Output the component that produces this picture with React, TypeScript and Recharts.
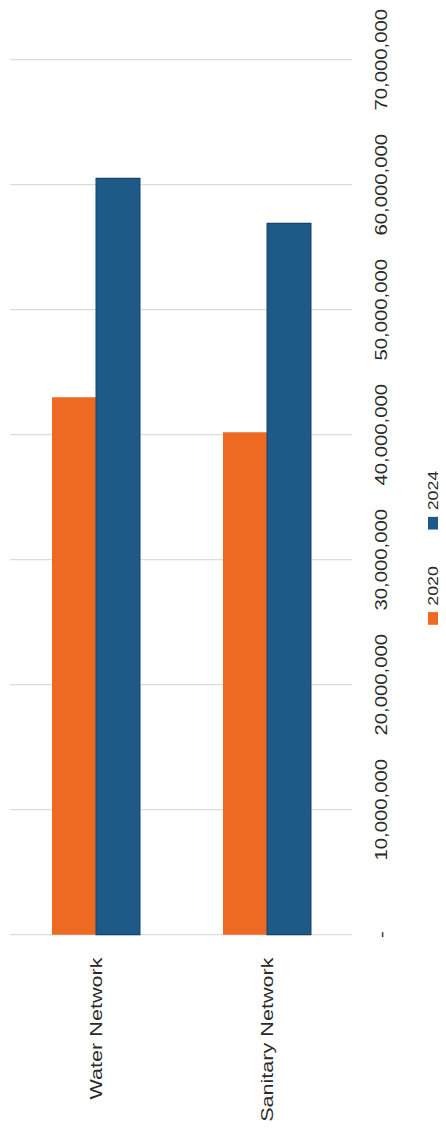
import { BarChart, Bar, XAxis, YAxis, CartesianGrid, Legend } from 'recharts';

// Values (chart is printed rotated 90° CCW)
const categories = ['Water Network', 'Sanitary Network'];
const values2020 = [43000000, 40200000];
const values2024 = [60500000, 56900000];
const seriesNames = ['2020', '2024'];
const seriesColors = ['#EE6A22', '#1E5A88'];
const valueTicks = [0, 10000000, 20000000, 30000000, 40000000, 50000000, 60000000, 70000000];

const data = categories.map((name, i) => ({
  name,
  y2020: values2020[i],
  y2024: values2024[i],
}));

const FONT = '"Liberation Sans", Arial, sans-serif';
// the scan is stretched along its long side, so the chart is scaled that way too
const STRETCH = 1.27;
const INNER_W = 889;
const INNER_H = 446;

const formatValue = (v: number) => (v === 0 ? '-' : v.toLocaleString('en-US'));

const renderLegend = () => (
  <div style={{ display: 'flex', alignItems: 'center', fontFamily: FONT, fontSize: 14, lineHeight: '16px', color: '#2a2a2a' }}>
    {seriesNames.map((name, i) => (
      <div key={name} style={{ display: 'flex', alignItems: 'center', marginLeft: i ? 29 : 0 }}>
        <span style={{ display: 'inline-block', width: 10, height: 10, background: seriesColors[i], marginRight: 5 }} />
        <span>{name}</span>
      </div>
    ))}
  </div>
);

export default function App() {
  return (
    <div style={{ position: 'fixed', left: 0, top: 0, width: 446, height: 1129, overflow: 'hidden', background: '#fff' }}>
      <div
        style={{
          position: 'absolute',
          left: 0,
          top: 0,
          width: INNER_W,
          height: INNER_H,
          transformOrigin: '0 0',
          transform: `translate(0px, 1129px) rotate(-90deg) scaleX(${STRETCH})`,
        }}
      >
        <BarChart
          width={INNER_W}
          height={INNER_H}
          data={data}
          layout="vertical"
          margin={{ top: 10, right: 47, bottom: 64, left: 0 }}
          barCategoryGap={42}
          barGap={0}
        >
          <CartesianGrid horizontal={false} stroke="#dcdcdc" />
          <XAxis
            type="number"
            domain={[0, 70000000]}
            ticks={valueTicks}
            tickFormatter={formatValue}
            axisLine={false}
            tickLine={false}
            tickSize={0}
            tickMargin={24}
            height={30}
            tick={{ fontSize: 16, fontFamily: FONT, fill: '#2a2a2a' }}
          />
          <YAxis
            type="category"
            dataKey="name"
            width={153}
            axisLine={false}
            tickLine={false}
            tickSize={0}
            tickMargin={18}
            tick={{ fontSize: 17, fontFamily: FONT, fill: '#2a2a2a' }}
          />
          <Legend
            layout="horizontal"
            verticalAlign="middle"
            align="center"
            wrapperStyle={{ left: 397, top: 425, width: 'auto' }}
            content={renderLegend}
          />
          <Bar dataKey="y2020" name={seriesNames[0]} fill={seriesColors[0]} isAnimationActive={false} />
          <Bar dataKey="y2024" name={seriesNames[1]} fill={seriesColors[1]} stroke="#17426c" strokeWidth={1} isAnimationActive={false} />
        </BarChart>
      </div>
    </div>
  );
}
